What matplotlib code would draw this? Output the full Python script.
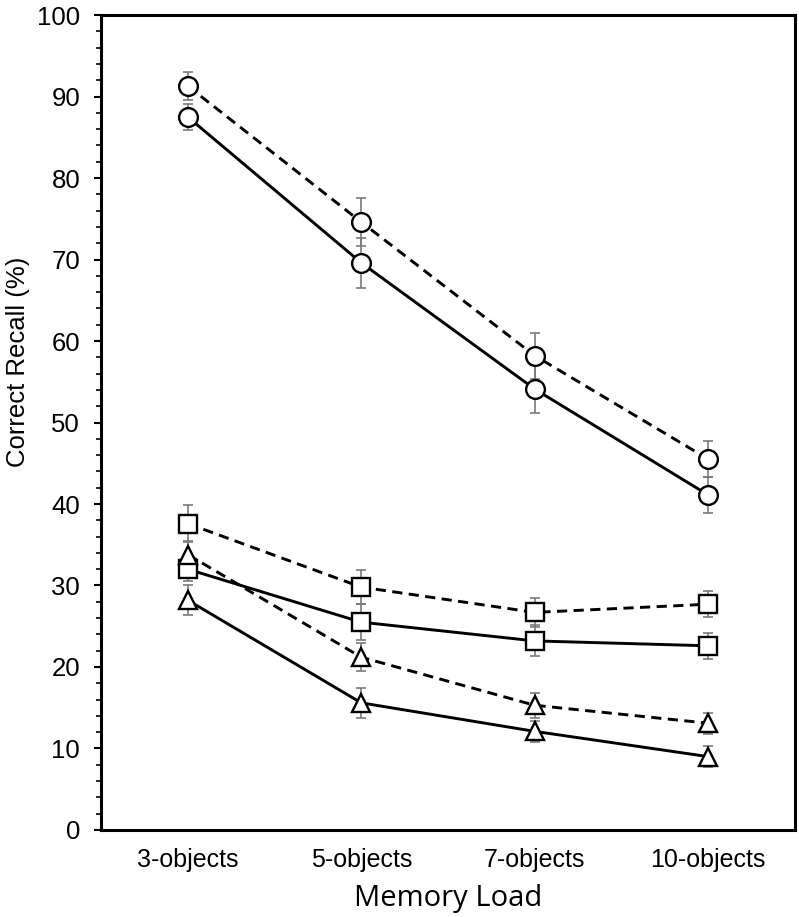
import matplotlib
matplotlib.use('Agg')
from matplotlib import pyplot as plt
from matplotlib.ticker import MultipleLocator
import numpy as np

plt.rcParams['font.family'] = ['Liberation Sans', 'DejaVu Sans']

loads = ['3-objects', '5-objects', '7-objects', '10-objects']

circ_dash = [91.3, 74.6, 58.2, 45.5]
circ_dash_err = [1.7, 3.0, 2.8, 2.2]
circ_solid = [87.5, 69.6, 54.1, 41.1]
circ_solid_err = [1.6, 3.1, 2.9, 2.2]

sq_dash = [37.6, 29.8, 26.7, 27.7]
sq_dash_err = [2.3, 2.1, 1.8, 1.6]
sq_solid = [32.0, 25.5, 23.2, 22.6]
sq_solid_err = [1.5, 2.2, 1.9, 1.6]

tri_dash = [33.8, 21.2, 15.3, 13.1]
tri_dash_err = [1.7, 1.7, 1.5, 1.3]
tri_solid = [28.2, 15.6, 12.1, 9.0]
tri_solid_err = [1.8, 1.8, 1.3, 1.3]

series = [
    (circ_dash, circ_dash_err, 'o', '--', 13.5),
    (circ_solid, circ_solid_err, 'o', '-', 13.5),
    (sq_dash, sq_dash_err, 's', '--', 12.5),
    (sq_solid, sq_solid_err, 's', '-', 12.5),
    (tri_dash, tri_dash_err, '^', '--', 13.5),
    (tri_solid, tri_solid_err, '^', '-', 13.5),
]

dpi = 100
fig = plt.figure(figsize=(799 / dpi, 917 / dpi), dpi=dpi)
ax = fig.add_axes([0.1264, 0.0949, 0.995 - 0.1264, 0.9836 - 0.0949])

x = np.arange(len(loads))
for vals, errs, mk, ls, ms in series:
    ax.errorbar(x, vals, yerr=errs, fmt='none', ecolor='#7a7a7a',
                elinewidth=1.2, capsize=3.5, capthick=1.2, zorder=1)
    ax.plot(x, vals, linestyle=ls, color='black', linewidth=2.1,
            dashes=(3.5, 2.2) if ls == '--' else (None, None),
            marker=mk, markersize=ms, markerfacecolor='white',
            markeredgecolor='black', markeredgewidth=1.7, zorder=2)

ax.set_xlim(-0.5, 3.5)
ax.set_ylim(0, 100)
ax.set_xticks(x)
ax.set_xticklabels(loads, fontsize=18)
ax.tick_params(axis='x', length=0, pad=13)
ax.yaxis.set_major_locator(MultipleLocator(10))
ax.yaxis.set_minor_locator(MultipleLocator(2))
ax.tick_params(axis='y', which='major', direction='out', length=5, width=1.5,
               labelsize=18.5, pad=10)
ax.tick_params(axis='y', which='minor', direction='out', length=3.5, width=1.2)

for sp in ax.spines.values():
    sp.set_linewidth(2.2)

ax.set_ylabel('Correct Recall (%)', fontsize=18.5)
ax.yaxis.set_label_coords(-0.102, 0.575)
ax.set_xlabel('Memory Load', fontsize=21, family=['Open Sans', 'DejaVu Sans'])
ax.xaxis.set_label_coords(0.5, -0.066)

fig.savefig('out.png', dpi=dpi)
